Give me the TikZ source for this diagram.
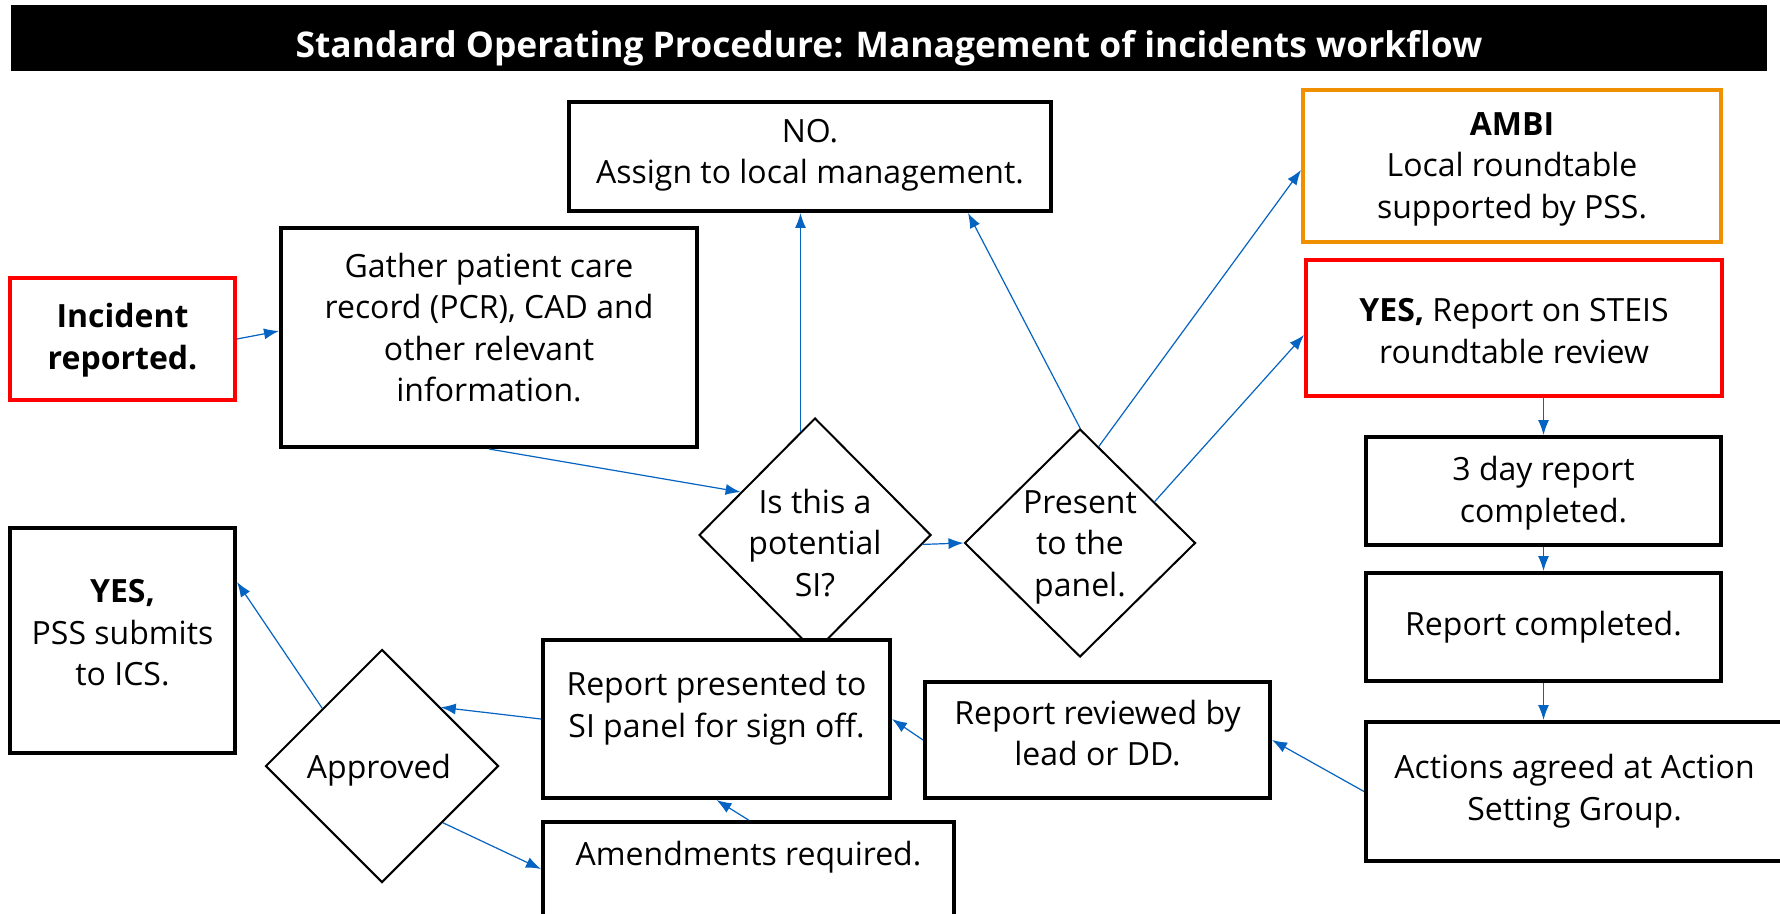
\documentclass[tikz,border=0pt]{standalone}
\usepackage{fontspec}
\setmainfont{Open Sans}
\usetikzlibrary{shapes.geometric,arrows.meta,calc}
\definecolor{arrowblue}{RGB}{5,99,193}
\definecolor{ambiorange}{RGB}{240,143,0}
\definecolor{alertred}{RGB}{255,0,0}
\begin{document}
\begin{tikzpicture}[x=0.5pt,y=-0.5pt,
  box/.style={rectangle,draw=black,line width=2pt,fill=white,inner sep=0pt},
  dia/.style={diamond,draw=black,line width=1pt,fill=white,inner sep=0pt,aspect=1},
  txt/.style={align=center,inner sep=0pt,font=\fontsize{16}{20.75}\selectfont},
  arr/.style={draw=arrowblue,line width=0.6pt,-{Latex[length=7.5pt,width=5.5pt]}}]
\useasboundingbox (0,0) rectangle (1780,914);
\clip (0,0) rectangle (1780,914);
\fill[white] (0,0) rectangle (1780,914);

% title
\node[fill=black,inner sep=0pt,minimum width=878pt,minimum height=33pt] (title) at (889,38) {};
\node[anchor=base,inner sep=0pt,text=white,font=\bfseries\fontsize{17.7}{22}\selectfont] (titletext) at (889,58) {Standard Operating Procedure: Management of incidents workflow};

% boxes
\node[box,draw=alertred,minimum width=112.5pt,minimum height=61pt] (inc) at (122.5,339) {};
\node[box,minimum width=208pt,minimum height=109.5pt] (gather) at (489,337.5) {};
\node[box,minimum width=241pt,minimum height=54.5pt] (no) at (810,156.5) {};
\node[box,draw=ambiorange,minimum width=209pt,minimum height=76pt] (ambi) at (1512,166) {};
\node[box,draw=alertred,minimum width=208pt,minimum height=68pt] (steis) at (1514,328) {};
\node[box,minimum width=177.5pt,minimum height=54pt] (day3) at (1543.5,491) {};
\node[box,minimum width=177.5pt,minimum height=54pt] (repc) at (1543.5,627) {};
\node[box,minimum width=209pt,minimum height=69.5pt] (actions) at (1575,791.5) {};
\node[box,minimum width=172.5pt,minimum height=58pt] (rev) at (1097.5,740) {};

% diamonds
\node[dia,minimum width=116pt,minimum height=117pt] (issi) at (815,535) {};
\node[dia,minimum width=115.5pt,minimum height=114pt] (present) at (1080,543) {};
\node[dia,minimum width=116.5pt,minimum height=116.5pt] (appr) at (382,766) {};

\node[box,minimum width=173.5pt,minimum height=79pt] (pres) at (716.5,719) {};
\node[box,minimum width=205.5pt,minimum height=47pt] (amend) at (748.5,869) {};
\node[box,minimum width=112.5pt,minimum height=112.5pt] (pss) at (122.5,640.5) {};

% texts
\node[txt] (inc-t) at (122.5,340) {\textbf{Incident}\\\textbf{reported.}};
\node[txt] (gather-t) at (489,327.5) {Gather patient care\\record (PCR), CAD and\\other relevant\\information.};
\node[txt] (no-t) at (810,155) {NO.\\Assign to local management.};
\node[txt] (ambi-t) at (1512,169) {\textbf{AMBI}\\Local roundtable\\supported by PSS.};
\node[txt] (steis-t) at (1514,331) {\textbf{YES,} Report on STEIS\\roundtable review};
\node[txt] (day3-t) at (1543.5,493) {3 day report\\completed.};
\node[txt] (repc-t) at (1543.5,627) {Report completed.};
\node[txt] (actions-t) at (1574.5,791) {Actions agreed at Action\\Setting Group.};
\node[txt] (rev-t) at (1097.5,733) {Report reviewed by\\lead or DD.};
\node[txt] (pres-t) at (716.5,708) {Report presented to\\SI panel for sign off.};
\node[txt] (amend-t) at (748.5,857) {Amendments required.};
\node[txt] (pss-t) at (122.5,633) {\textbf{YES,}\\PSS submits\\to ICS.};
\node[txt] (issi-t) at (815,543) {Is this a\\potential\\SI?};
\node[txt] (present-t) at (1080,547) {Present\\to the\\panel.};
\node[txt] (appr-t) at (379,770) {Approved};

% connectors
\draw[arr] (inc.east) -- ($(gather.west)+(0,-6.5)$);
\draw[arr] (gather.south) -- (issi.150);
\draw[arr] (issi.98) -- (issi.98 |- no.south);
\draw[arr] (issi.-5) -- (present.west);
\draw[arr] (present.north) -- ($(no.south)+(158,0)$);
\draw[arr] (present.79) -- ($(ambi.west)+(0,4)$);
\draw[arr] (present.29) -- ($(steis.west)+(0,7)$);
\draw[arr] (steis.south -| day3.north) -- (day3.north);
\draw[arr] (day3.south) -- (repc.north);
\draw[arr] (repc.south) -- (repc.south |- actions.north);
\draw[arr] (actions.west) -- (rev.east);
\draw[arr] (rev.west) -- (pres.east);
\draw[arr] (pres.west) -- (appr.45);
\draw[arr] (appr.136) -- ($(pss.east)+(0,-58.5)$);
\draw[arr] (appr.-43) -- (amend.west);
\draw[arr] (amend.north) -- (pres.south);
\end{tikzpicture}
\end{document}
